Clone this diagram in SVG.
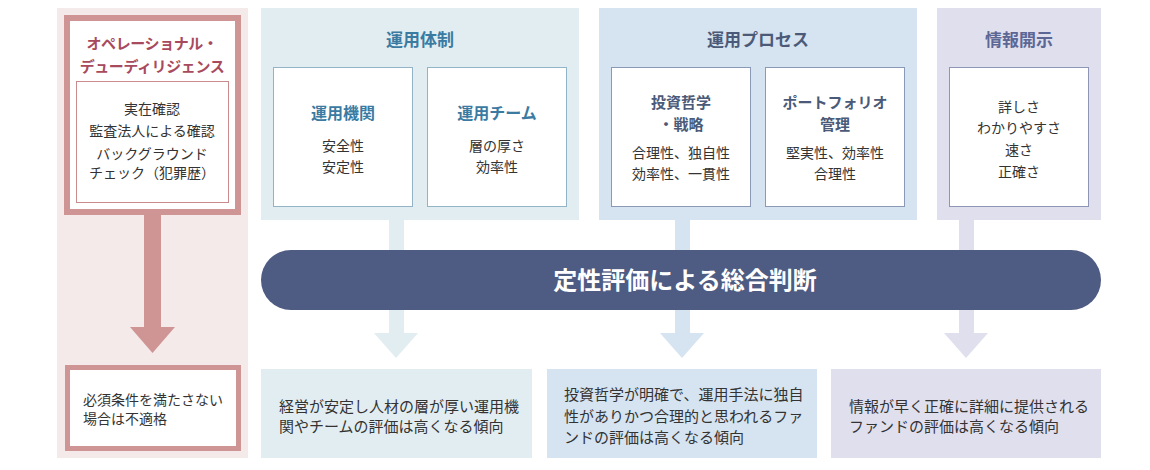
<svg xmlns="http://www.w3.org/2000/svg" width="1150" height="470" viewBox="0 0 1150 470">
<style>
text{font-family:"Noto Sans CJK JP","Noto Sans",sans-serif;fill:#333;text-anchor:middle;font-size:14px}
.t{font-weight:bold;font-size:16px}
.h{font-weight:bold;font-size:17px}
.s{font-weight:bold;font-size:15px}
.lt{fill:#a84a5d;font-weight:bold;font-size:15px;letter-spacing:-0.4px}
.bt{fill:#3b7aa1}
.pt{fill:#4a5a78}
.it{fill:#5c6795}
.w{fill:#fff}
.bb{stroke:#93b3c7;fill:#fff}
.pb{stroke:#8a99b6;fill:#fff}
.ib{stroke:#8e95b5;fill:#fff}
.ll{text-anchor:start;font-size:15px}
</style>
<g id="left-column">
<rect x="57" y="8" width="191" height="450" fill="#f5eaea"/>
<rect x="67" y="18" width="171" height="194" fill="#fff" stroke="#cf9595" stroke-width="6"/>
<text class="lt" x="152" y="49">オペレーショナル・</text>
<text class="lt" x="152" y="72">デューディリジェンス</text>
<rect x="76.5" y="81.5" width="152" height="121" fill="#fff" stroke="#c98b8b"/>
<text x="152" y="114">実在確認</text>
<text x="152" y="136">監査法人による確認</text>
<text x="152" y="159">バックグラウンド</text>
<text x="152" y="178">チェック（犯罪歴）</text>
</g>
<g id="panel-unyotaisei">
<rect x="261" y="8" width="318" height="212" fill="#e2edf2"/>
<text class="h bt" x="420" y="46">運用体制</text>
<rect class="bb" x="273.5" y="67.5" width="139" height="139"/>
<text class="t bt" x="343" y="119">運用機関</text>
<text x="343" y="151">安全性</text>
<text x="343" y="172">安定性</text>
<rect class="bb" x="427.5" y="67.5" width="139" height="139"/>
<text class="t bt" x="497" y="119">運用チーム</text>
<text x="497" y="151">層の厚さ</text>
<text x="497" y="172">効率性</text>
</g>
<g id="panel-unyoprocess">
<rect x="599" y="8" width="318" height="212" fill="#d6e3f1"/>
<text class="h pt" x="758" y="46">運用プロセス</text>
<rect class="pb" x="611.5" y="67.5" width="139" height="139"/>
<text class="s pt" x="681" y="108">投資哲学</text>
<text class="s pt" x="681" y="130">・戦略</text>
<text x="681" y="158">合理性、独自性</text>
<text x="681" y="179">効率性、一貫性</text>
<rect class="pb" x="765.5" y="67.5" width="139" height="139"/>
<text class="s pt" x="835" y="108">ポートフォリオ</text>
<text class="s pt" x="835" y="130">管理</text>
<text x="835" y="158">堅実性、効率性</text>
<text x="835" y="179">合理性</text>
</g>
<g id="panel-johokaiji">
<rect x="937" y="8" width="164" height="212" fill="#e0dfee"/>
<text class="h it" x="1019" y="46">情報開示</text>
<rect class="ib" x="949.5" y="67.5" width="139" height="139"/>
<text x="1019" y="112">詳しさ</text>
<text x="1019" y="133">わかりやすさ</text>
<text x="1019" y="155">速さ</text>
<text x="1019" y="177">正確さ</text>
</g>
<g id="connectors">
<rect x="144" y="212" width="17" height="116" fill="#cf9595"/>
<polygon points="130,327 175,327 152.5,353" fill="#cf9595"/>
<rect x="389" y="220" width="15" height="114" fill="#e2edf2"/>
<polygon points="374,333 418,333 396,358" fill="#e2edf2"/>
<rect x="675" y="220" width="15" height="114" fill="#d6e3f1"/>
<polygon points="660,333 704,333 682,358" fill="#d6e3f1"/>
<rect x="959" y="220" width="15" height="114" fill="#e0dfee"/>
<polygon points="944,333 988,333 966,358" fill="#e0dfee"/>
</g>
<g id="judgement">
<rect x="261" y="250" width="840" height="60" rx="30" fill="#4e5b82"/>
<text class="w" x="685" y="289" style="font-size:24px;font-weight:bold">定性評価による総合判断</text>
</g>
<g id="result-left">
<rect x="67.5" y="367.5" width="171" height="81" fill="#fff" stroke="#cf9595" stroke-width="5"/>
<text class="ll" x="83" y="405" style="font-size:14px">必須条件を満たさない</text>
<text class="ll" x="83" y="424" style="font-size:14px">場合は不適格</text>
</g>
<g id="result-taisei">
<rect x="261" y="369" width="271" height="89" fill="#e2edf2"/>
<text class="ll" x="279" y="412">経営が安定し人材の層が厚い運用機</text>
<text class="ll" x="279" y="432">関やチームの評価は高くなる傾向</text>
</g>
<g id="result-process">
<rect x="547" y="369" width="270" height="89" fill="#d6e3f1"/>
<text class="ll" x="564" y="400">投資哲学が明確で、運用手法に独自</text>
<text class="ll" x="564" y="422">性がありかつ合理的と思われるファ</text>
<text class="ll" x="564" y="443">ンドの評価は高くなる傾向</text>
</g>
<g id="result-joho">
<rect x="831" y="369" width="270" height="89" fill="#e0dfee"/>
<text class="ll" x="849" y="412">情報が早く正確に詳細に提供される</text>
<text class="ll" x="849" y="432">ファンドの評価は高くなる傾向</text>
</g>
</svg>
